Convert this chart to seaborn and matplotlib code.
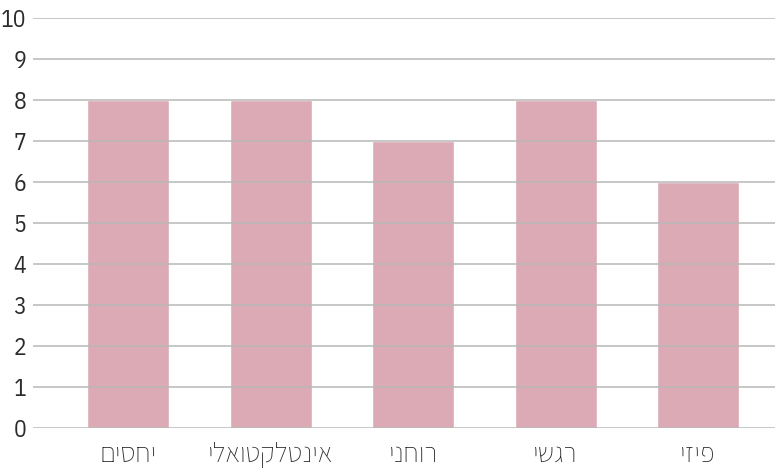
import matplotlib
matplotlib.use("Agg")
import matplotlib.pyplot as plt
import seaborn as sns
import pandas as pd

# categories in display order (left to right), logical Hebrew text
categories = ["יחסים", "אינטלקטואלי", "רוחני", "רגשי", "פיזי"]
scores = [8, 8, 7, 8, 6]
y_ticks = list(range(0, 11))


def rtl(s):
    # matplotlib has no bidi support, so reverse the visual order
    return s[::-1]


sns.set_style("white")
plt.rcParams['font.family'] = ['IBM Plex Sans Condensed', 'Assistant', 'DejaVu Sans']

df = pd.DataFrame({"category": [rtl(c) for c in categories], "score": scores})

fig = plt.figure(figsize=(7.75, 4.69), dpi=100)
ax = fig.add_axes([0.0426, 0.0874, 0.9574, 0.8742])

sns.barplot(data=df, x="category", y="score", color="#dcaab5", saturation=1,
            width=0.575, ax=ax, zorder=1)

ax.set_ylim(0, 10)
ax.set_xlim(-0.667, 4.54)
ax.set_yticks(y_ticks)
ax.yaxis.grid(True, color="#b8b8b8", linewidth=1.1, zorder=3)
ax.set_axisbelow(False)
ax.xaxis.grid(False)
for s in ax.spines.values():
    s.set_visible(False)

ax.set_xlabel("")
ax.set_ylabel("")
ax.tick_params(axis="both", length=0, colors="#2b2b2b", labelsize=17)
ax.tick_params(axis="x", labelsize=20, pad=9)
ax.tick_params(axis="y", pad=5)

fig.savefig("out.png", dpi=100)
